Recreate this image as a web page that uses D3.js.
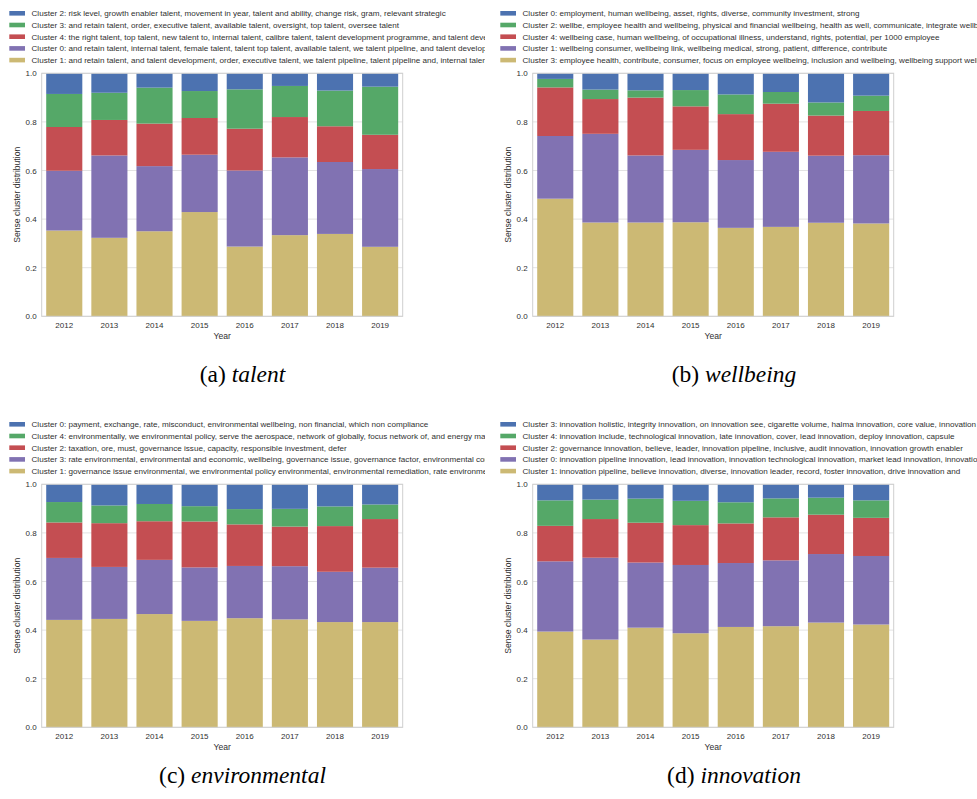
<!DOCTYPE html>
<html>
<head>
<meta charset="utf-8">
<script src="https://cdn.jsdelivr.net/npm/d3@7"></script>
<style>
  body { margin: 0; background: #fff; }
  .tick-label, .axis-title, .legend-text { font-family: "Liberation Sans", Arial, sans-serif; fill: #303030; }
  .caption { font-family: "Liberation Serif", "Times New Roman", serif; font-size: 23.5px; fill: #000; }
</style>
</head>
<body>
<div id="chart"></div>
<script>
// ---------------------------//
//           DATA             //
// ---------------------------//

const years = ["2012", "2013", "2014", "2015", "2016", "2017", "2018", "2019"];
const yTicks = [0, 0.2, 0.4, 0.6, 0.8, 1.0];

// colours by stack position (bottom -> top)
const stackColors = ["#CCB974", "#8172B2", "#C44E52", "#55A868", "#4C72B0"];

// (a) talent  -- legend order is top -> bottom
const talentLabels = [
  "Cluster 2: risk level, growth enabler talent, movement in year, talent and ability, change risk, gram, relevant strategic",
  "Cluster 3: and retain talent, order, executive talent, available talent, oversight, top talent, oversee talent",
  "Cluster 4: the right talent, top talent, new talent to, internal talent, calibre talent, talent development programme, and talent development",
  "Cluster 0: and retain talent, internal talent, female talent, talent top talent, available talent, we talent pipeline, and talent development",
  "Cluster 1: and retain talent, and talent development, order, executive talent, we talent pipeline, talent pipeline and, internal talent"
];
const talentC2 = [0.085, 0.080, 0.059, 0.073, 0.066, 0.052, 0.071, 0.055];
const talentC3 = [0.136, 0.112, 0.148, 0.111, 0.162, 0.128, 0.147, 0.198];
const talentC4 = [0.180, 0.146, 0.175, 0.151, 0.172, 0.166, 0.147, 0.141];
const talentC0 = [0.246, 0.339, 0.268, 0.236, 0.313, 0.320, 0.296, 0.320];
const talentC1 = [0.353, 0.323, 0.350, 0.429, 0.287, 0.334, 0.339, 0.286];

// (b) wellbeing
const wellbeingLabels = [
  "Cluster 0: employment, human wellbeing, asset, rights, diverse, community investment, strong",
  "Cluster 2: wellbe, employee health and wellbeing, physical and financial wellbeing, health as well, communicate, integrate wellbeing",
  "Cluster 4: wellbeing case, human wellbeing, of occupational illness, understand, rights, potential, per 1000 employee",
  "Cluster 1: wellbeing consumer, wellbeing link, wellbeing medical, strong, patient, difference, contribute",
  "Cluster 3: employee health, contribute, consumer, focus on employee wellbeing, inclusion and wellbeing, wellbeing support wellbeing"
];
const wellbeingC0 = [0.023, 0.067, 0.070, 0.069, 0.087, 0.077, 0.120, 0.092];
const wellbeingC2 = [0.035, 0.039, 0.030, 0.067, 0.081, 0.048, 0.054, 0.063];
const wellbeingC4 = [0.200, 0.143, 0.238, 0.179, 0.189, 0.198, 0.165, 0.182];
const wellbeingC1 = [0.258, 0.365, 0.276, 0.298, 0.279, 0.309, 0.276, 0.281];
const wellbeingC3 = [0.484, 0.386, 0.386, 0.387, 0.364, 0.368, 0.385, 0.382];

// (c) environmental
const environmentalLabels = [
  "Cluster 0: payment, exchange, rate, misconduct, environmental wellbeing, non financial, which non compliance",
  "Cluster 4: environmentally, we environmental policy, serve the aerospace, network of globally, focus network of, and energy management",
  "Cluster 2: taxation, ore, must, governance issue, capacity, responsible investment, defer",
  "Cluster 3: rate environmental, environmental and economic, wellbeing, governance issue, governance factor, environmental concern",
  "Cluster 1: governance issue environmental, we environmental policy environmental, environmental remediation, rate environmental"
];
const environmentalC0 = [0.073, 0.087, 0.081, 0.090, 0.102, 0.101, 0.091, 0.083];
const environmentalC4 = [0.084, 0.073, 0.071, 0.063, 0.063, 0.073, 0.081, 0.060];
const environmentalC2 = [0.146, 0.180, 0.159, 0.189, 0.171, 0.163, 0.188, 0.200];
const environmentalC3 = [0.255, 0.214, 0.223, 0.220, 0.215, 0.219, 0.207, 0.224];
const environmentalC1 = [0.442, 0.446, 0.466, 0.438, 0.449, 0.444, 0.433, 0.433];

// (d) innovation
const innovationLabels = [
  "Cluster 3: innovation holistic, integrity innovation, on innovation see, cigarette volume, halma innovation, core value, innovation",
  "Cluster 4: innovation include, technological innovation, late innovation, cover, lead innovation, deploy innovation, capsule",
  "Cluster 2: governance innovation, believe, leader, innovation pipeline, inclusive, audit innovation, innovation growth enabler",
  "Cluster 0: innovation pipeline innovation, lead innovation, innovation technological innovation, market lead innovation, innovation",
  "Cluster 1: innovation pipeline, believe innovation, diverse, innovation leader, record, foster innovation, drive innovation and"
];
const innovationC3 = [0.066, 0.063, 0.059, 0.068, 0.074, 0.058, 0.055, 0.066];
const innovationC4 = [0.105, 0.080, 0.099, 0.100, 0.087, 0.078, 0.070, 0.072];
const innovationC2 = [0.146, 0.159, 0.164, 0.164, 0.163, 0.177, 0.162, 0.157];
const innovationC0 = [0.289, 0.337, 0.268, 0.281, 0.263, 0.271, 0.282, 0.282];
const innovationC1 = [0.394, 0.361, 0.410, 0.387, 0.413, 0.416, 0.431, 0.423];

// panels: series listed top -> bottom, same order as legend
const panels = [
  {tag: "(a) ", name: "talent", labels: talentLabels,
   series: [talentC2, talentC3, talentC4, talentC0, talentC1], col: 0, row: 0},
  {tag: "(b) ", name: "wellbeing", labels: wellbeingLabels,
   series: [wellbeingC0, wellbeingC2, wellbeingC4, wellbeingC1, wellbeingC3], col: 1, row: 0},
  {tag: "(c) ", name: "environmental", labels: environmentalLabels,
   series: [environmentalC0, environmentalC4, environmentalC2, environmentalC3, environmentalC1], col: 0, row: 1},
  {tag: "(d) ", name: "innovation", labels: innovationLabels,
   series: [innovationC3, innovationC4, innovationC2, innovationC0, innovationC1], col: 1, row: 1}
];

// ---------------------------//
//       SET  CANVAS          //
// ---------------------------//

const W = 977, H = 799;
const svg = d3.select("#chart").append("svg")
    .attr("width", W)
    .attr("height", H);

const colX = [0, 491];
const rowY = [0, 411];
const plotW = 361, plotH = 243;
const plotLeft = 41.7, plotTop = 73.3;
const captionX = [242.5, 734];
const captionY = [382, 783];

svg.append("defs").append("clipPath")
    .attr("id", "leftClip")
    .append("rect").attr("x", 0).attr("y", 0).attr("width", 485).attr("height", H);

panels.forEach(p => {
    const ox = colX[p.col], oy = rowY[p.row];
    const g = svg.append("g").attr("transform", `translate(${ox},${oy})`);

    // ----- legend -----
    const leg = g.append("g");
    if (p.col === 0) leg.attr("clip-path", "url(#leftClip)");
    p.labels.forEach((lab, i) => {
        const cy = 13.3 + i * 11.7;
        leg.append("rect")
            .attr("x", 9.3).attr("y", cy - 2.3)
            .attr("width", 15.7).attr("height", 4.6)
            .attr("fill", stackColors[4 - i]);
        leg.append("text")
            .attr("class", "legend-text")
            .attr("x", 31.5).attr("y", cy)
            .attr("dy", "0.35em")
            .style("font-size", "8.1px")
            .text(lab);
    });

    // ----- scales -----
    const plot = g.append("g").attr("transform", `translate(${plotLeft},${plotTop})`);
    const x = d3.scaleBand()
        .domain(years)
        .range([0, plotW])
        .paddingInner(0.2)
        .paddingOuter(0.1);
    const y = d3.scaleLinear().domain([0, 1]).range([plotH, 0]);

    // grid
    plot.selectAll(".grid")
        .data(yTicks)
        .enter().append("line")
        .attr("x1", 0).attr("x2", plotW)
        .attr("y1", d => y(d)).attr("y2", d => y(d))
        .attr("stroke", "#e3e3e3").attr("stroke-width", 1);

    // stacked bars, bottom series first
    const keys = [4, 3, 2, 1, 0];
    const rows = years.map((yr, j) => {
        const r = {year: yr};
        keys.forEach(k => { r[k] = p.series[k][j]; });
        return r;
    });
    const stacked = d3.stack().keys(keys)(rows);
    plot.selectAll(".layer")
        .data(stacked)
        .enter().append("g")
        .attr("fill", (d, i) => stackColors[i])
        .selectAll("rect")
        .data(d => d)
        .enter().append("rect")
        .attr("x", d => x(d.data.year))
        .attr("width", x.bandwidth())
        .attr("y", d => y(Math.min(d[1], 1)))
        .attr("height", d => y(d[0]) - y(Math.min(d[1], 1)));

    // frame
    plot.append("rect")
        .attr("width", plotW).attr("height", plotH)
        .attr("fill", "none").attr("stroke", "#cfcfcf").attr("stroke-width", 1);

    // axes
    const yAxis = plot.append("g")
        .call(d3.axisLeft(y).tickValues(yTicks).tickFormat(d3.format(".1f")).tickSize(0).tickPadding(5));
    yAxis.select(".domain").remove();
    yAxis.selectAll("text").attr("class", "tick-label").style("font-size", "8px").attr("font-family", null);

    const xAxis = plot.append("g")
        .attr("transform", `translate(0,${plotH})`)
        .call(d3.axisBottom(x).tickSize(0).tickPadding(6));
    xAxis.select(".domain").remove();
    xAxis.selectAll("text").attr("class", "tick-label").style("font-size", "8px").attr("font-family", null);

    plot.append("text")
        .attr("class", "axis-title")
        .attr("text-anchor", "middle")
        .attr("x", plotW / 2)
        .attr("y", plotH + 23)
        .style("font-size", "8.6px")
        .text("Year");

    plot.append("text")
        .attr("class", "axis-title")
        .attr("text-anchor", "middle")
        .attr("transform", `translate(${-22},${plotH / 2}) rotate(-90)`)
        .style("font-size", "8.6px")
        .text("Sense cluster distribution");

    // caption
    const cap = svg.append("text")
        .attr("class", "caption")
        .attr("text-anchor", "middle")
        .attr("x", captionX[p.col])
        .attr("y", captionY[p.row]);
    cap.append("tspan").text(p.tag);
    cap.append("tspan").style("font-style", "italic").text(p.name);
});
</script>
</body>
</html>
